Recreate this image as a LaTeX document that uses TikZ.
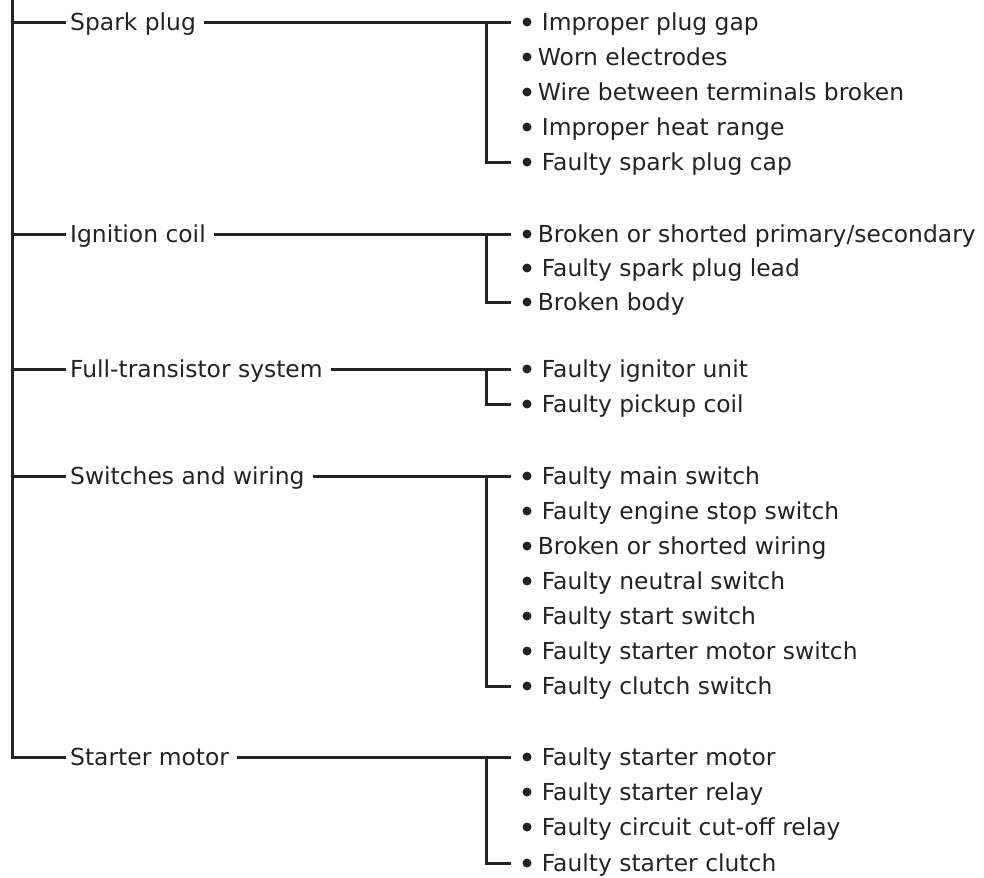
\documentclass[tikz,border=0pt]{standalone}
\usepackage{fontspec}
\setmainfont{DejaVu Sans}
\usetikzlibrary{positioning}
\definecolor{inkgray}{RGB}{35,35,35}

\begin{document}
\begin{tikzpicture}[
    x=1bp, y=-1bp,
    font=\fontsize{23.4bp}{28bp}\selectfont,
    cat/.style={anchor=west, text=inkgray, inner xsep=4bp, inner ysep=0pt,
                text height=17bp, text depth=0pt},
    item/.style={text=inkgray, inner xsep=0pt, inner ysep=0pt,
                 text height=17bp, text depth=0pt},
    dot/.style={circle, fill=inkgray, inner sep=0pt, minimum size=9bp},
    wire/.style={draw=inkgray, line width=3bp},
    feed/.style={wire, shorten <=4bp, shorten >=11bp}
]

    \useasboundingbox (0,0) rectangle (984,878);

    % ==========================================
    % COORDINATES
    % ==========================================
    \coordinate (spine_top) at (12, 0);   % main trunk
    \coordinate (jx) at (486, 0);         % x of the branch trunks

    % ==========================================
    % CAUSE GROUPS
    % ==========================================
    \node[cat] (spark) at (66, 22)  {Spark plug};
    \node[cat] (ign)   at (66, 234) {Ignition coil};
    \node[cat] (fts)   at (66, 369) {Full-transistor system};
    \node[cat] (sw)    at (66, 476) {Switches and wiring};
    \node[cat] (st)    at (66, 757) {Starter motor};

    % ==========================================
    % SPARK PLUG ITEMS
    % ==========================================
    \node[dot] (sp_b1) at (527, 22)  {};
    \node[dot] (sp_b2) at (527, 57)  {};
    \node[dot] (sp_b3) at (527, 92)  {};
    \node[dot] (sp_b4) at (527, 127) {};
    \node[dot] (sp_b5) at (527, 162) {};
    \node[item, right=10bp of sp_b1] (sp_t1) {Improper plug gap};
    \node[item, right=6bp of sp_b2]  (sp_t2) {Worn electrodes};
    \node[item, right=6bp of sp_b3]  (sp_t3) {Wire between terminals broken};
    \node[item, right=10bp of sp_b4] (sp_t4) {Improper heat range};
    \node[item, right=10bp of sp_b5] (sp_t5) {Faulty spark plug cap};

    % ==========================================
    % IGNITION COIL ITEMS
    % ==========================================
    \node[dot] (ig_b1) at (527, 234) {};
    \node[dot] (ig_b2) at (527, 268) {};
    \node[dot] (ig_b3) at (527, 302) {};
    \node[item, right=6bp of ig_b1]  (ig_t1) {Broken or shorted primary/secondary};
    \node[item, right=10bp of ig_b2] (ig_t2) {Faulty spark plug lead};
    \node[item, right=6bp of ig_b3]  (ig_t3) {Broken body};

    % ==========================================
    % FULL-TRANSISTOR ITEMS
    % ==========================================
    \node[dot] (ft_b1) at (527, 369) {};
    \node[dot] (ft_b2) at (527, 404) {};
    \node[item, right=10bp of ft_b1] (ft_t1) {Faulty ignitor unit};
    \node[item, right=10bp of ft_b2] (ft_t2) {Faulty pickup coil};

    % ==========================================
    % SWITCHES AND WIRING ITEMS
    % ==========================================
    \node[dot] (sw_b1) at (527, 476) {};
    \node[dot] (sw_b2) at (527, 511) {};
    \node[dot] (sw_b3) at (527, 546) {};
    \node[dot] (sw_b4) at (527, 581) {};
    \node[dot] (sw_b5) at (527, 616) {};
    \node[dot] (sw_b6) at (527, 651) {};
    \node[dot] (sw_b7) at (527, 686) {};
    \node[item, right=10bp of sw_b1] (sw_t1) {Faulty main switch};
    \node[item, right=10bp of sw_b2] (sw_t2) {Faulty engine stop switch};
    \node[item, right=6bp of sw_b3]  (sw_t3) {Broken or shorted wiring};
    \node[item, right=10bp of sw_b4] (sw_t4) {Faulty neutral switch};
    \node[item, right=10bp of sw_b5] (sw_t5) {Faulty start switch};
    \node[item, right=10bp of sw_b6] (sw_t6) {Faulty starter motor switch};
    \node[item, right=10bp of sw_b7] (sw_t7) {Faulty clutch switch};

    % ==========================================
    % STARTER MOTOR ITEMS
    % ==========================================
    \node[dot] (sm_b1) at (527, 757) {};
    \node[dot] (sm_b2) at (527, 792) {};
    \node[dot] (sm_b3) at (527, 827) {};
    \node[dot] (sm_b4) at (527, 863) {};
    \node[item, right=10bp of sm_b1] (sm_t1) {Faulty starter motor};
    \node[item, right=10bp of sm_b2] (sm_t2) {Faulty starter relay};
    \node[item, right=10bp of sm_b3] (sm_t3) {Faulty circuit cut-off relay};
    \node[item, right=10bp of sm_b4] (sm_t4) {Faulty starter clutch};

    % ==========================================
    % MAIN TRUNK
    % ==========================================
    \draw[wire] (spine_top) |- (st.west);
    \draw[wire] (spark.west -| spine_top) -- (spark.west);
    \draw[wire] (ign.west -| spine_top)   -- (ign.west);
    \draw[wire] (fts.west -| spine_top)   -- (fts.west);
    \draw[wire] (sw.west -| spine_top)    -- (sw.west);

    % ==========================================
    % BRANCHES
    % ==========================================
    \draw[feed] (spark.east) -- (sp_b1.west);
    \draw[feed] (ign.east)   -- (ig_b1.west);
    \draw[feed] (fts.east)   -- (ft_b1.west);
    \draw[feed] (sw.east)    -- (sw_b1.west);
    \draw[feed] (st.east)    -- (sm_b1.west);

    \draw[wire, shorten >=11bp] (sp_b1 -| jx) |- (sp_b5.west);
    \draw[wire, shorten >=11bp] (ig_b1 -| jx) |- (ig_b3.west);
    \draw[wire, shorten >=11bp] (ft_b1 -| jx) |- (ft_b2.west);
    \draw[wire, shorten >=11bp] (sw_b1 -| jx) |- (sw_b7.west);
    \draw[wire, shorten >=11bp] (sm_b1 -| jx) |- (sm_b4.west);

\end{tikzpicture}
\end{document}
